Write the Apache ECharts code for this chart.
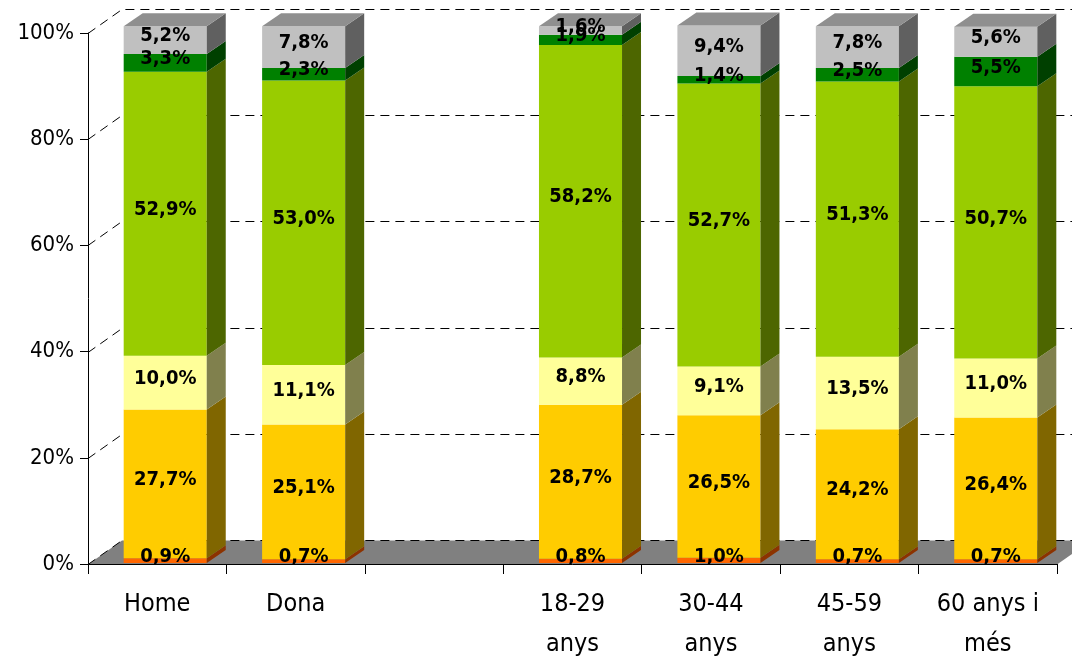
<!DOCTYPE html>
<html>
<head>
<meta charset="utf-8">
<script src="https://cdn.jsdelivr.net/npm/echarts@6/dist/echarts.min.js"></script>
<style>
  html, body { margin: 0; padding: 0; background: #fff; }
  #chart { width: 1072px; height: 660px; }
</style>
</head>
<body>
<div id="chart"></div>
<script>
const categories = ['Home', 'Dona', '', '18-29\nanys', '30-44\nanys', '45-59\nanys', '60 anys i\nmés'];
const valuesOrange = [0.9, 0.7, null, 0.8, 1.0, 0.7, 0.7];
const valuesGold = [27.7, 25.1, null, 28.7, 26.5, 24.2, 26.4];
const valuesPaleYellow = [10.0, 11.1, null, 8.8, 9.1, 13.5, 11.0];
const valuesGreen = [52.9, 53.0, null, 58.2, 52.7, 51.3, 50.7];
const valuesDarkGreen = [3.3, 2.3, null, 1.9, 1.4, 2.5, 5.5];
const valuesGray = [5.2, 7.8, null, 1.6, 9.4, 7.8, 5.6];
const yTicks = [0, 20, 40, 60, 80, 100];

// bottom to top
const stack = [
  { values: valuesOrange, front: '#FF6600', side: '#8C3300' },
  { values: valuesGold, front: '#FFCC00', side: '#806600' },
  { values: valuesPaleYellow, front: '#FFFF99', side: '#80804D' },
  { values: valuesGreen, front: '#99CC00', side: '#4D6600' },
  { values: valuesDarkGreen, front: '#008000', side: '#004000' },
  { values: valuesGray, front: '#C0C0C0', side: '#606060' }
];

const FONT = '"DejaVu Sans Condensed", "DejaVu Sans", sans-serif';
const DX = 34, DY = 24;            // depth of the chart box
const BOX = 8, BOY = 1;            // bar front face offset
const BDX = 19, BDY = 13;          // bar depth
const STRETCH = 1.011;             // bars sit a bit nearer than the front plane

function segments(k) {
  const out = [];
  categories.forEach((c, i) => {
    const v = stack[k].values[i];
    if (v == null) return;
    let base = 0;
    for (let j = 0; j < k; j++) base += stack[j].values[i];
    out.push([i, base, base + v, v]);
  });
  return out;
}

function fmt(v) {
  return v.toFixed(1).replace('.', ',') + '%';
}

// front-face point of a bar for category i at value v
function barPoint(api, i, v) {
  const z = api.coord([i, 0]);
  const p = api.coord([i, v]);
  return [p[0] + BOX, z[1] + (p[1] - z[1]) * STRETCH - BOY];
}

function renderBar(k) {
  return function (params, api) {
    const i = api.value(0);
    const lo = barPoint(api, i, api.value(1));
    const hi = barPoint(api, i, api.value(2));
    const w = api.size([1, 0])[0] * 0.6;
    const x0 = lo[0] - w / 2, x1 = x0 + w;
    const yb = lo[1], yt = hi[1];
    const s = stack[k];
    const children = [
      { type: 'rect', shape: { x: x0, y: yt, width: w, height: yb - yt }, style: { fill: s.front } },
      { type: 'polygon', shape: { points: [[x1, yb], [x1, yt], [x1 + BDX, yt - BDY], [x1 + BDX, yb - BDY]] }, style: { fill: s.side } }
    ];
    if (k === stack.length - 1) {
      children.push({ type: 'polygon', shape: { points: [[x0, yt], [x1, yt], [x1 + BDX, yt - BDY], [x0 + BDX, yt - BDY]] }, style: { fill: '#8F8F8F' } });
    }
    return { type: 'group', children: children };
  };
}

function renderFrame(params, api) {
  const cs = params.coordSys;
  const y = Math.round(api.coord([0, api.value(0)])[1]) + 0.5;
  const xl = cs.x, xr = cs.x + cs.width;
  const children = [];
  if (api.value(0) === 0) {
    children.push({ type: 'polygon', shape: { points: [[xl, y], [xr, y], [xr + DX, y - DY], [xl + DX, y - DY]] }, style: { fill: '#808080' } });
  }
  children.push({
    type: 'polyline',
    shape: { points: [[xl, y], [xl + DX, y - DY], [xr + DX, y - DY]] },
    style: { fill: null, stroke: '#000', lineWidth: 1, lineDash: [9, 6] }
  });
  return { type: 'group', children: children };
}

let labelData = [];
stack.forEach((s, k) => {
  segments(k).forEach(d => labelData.push([d[0], (d[1] + d[2]) / 2, d[3]]));
});

function renderLabel(params, api) {
  const p = barPoint(api, api.value(0), api.value(1));
  return {
    type: 'text',
    x: p[0],
    y: p[1] - 4,
    style: {
      text: fmt(api.value(2)),
      fill: '#000',
      font: 'bold 20px ' + FONT,
      align: 'center',
      verticalAlign: 'middle'
    }
  };
}

const series = [{
  type: 'custom',
  name: 'frame',
  z: 1,
  clip: false,
  silent: true,
  data: yTicks.map(v => [v]),
  encode: { y: 0 },
  renderItem: renderFrame
}];

stack.forEach((s, k) => {
  series.push({
    type: 'custom',
    z: 2,
    clip: false,
    data: segments(k),
    encode: { x: 0, y: 2 },
    renderItem: renderBar(k)
  });
});

series.push({
  type: 'custom',
  name: 'labels',
  z: 5,
  clip: false,
  data: labelData,
  encode: { x: 0, y: 1 },
  renderItem: renderLabel
});

const chart = echarts.init(document.getElementById('chart'));
chart.setOption({
  animation: false,
  backgroundColor: '#fff',
  grid: { left: 88, right: 15, top: 33, bottom: 96, outerBoundsMode: 'none' },
  xAxis: {
    type: 'category',
    data: categories,
    z: 10,
    axisLine: { lineStyle: { color: '#000', width: 1 } },
    axisTick: { show: true, length: 10, lineStyle: { color: '#000' } },
    axisLabel: { interval: 0, color: '#000', fontFamily: FONT, fontSize: 25, lineHeight: 40, margin: 20 },
    splitLine: { show: false }
  },
  yAxis: {
    type: 'value',
    min: 0,
    max: 100,
    interval: 20,
    z: 10,
    axisLine: { show: true, lineStyle: { color: '#000', width: 1 } },
    axisTick: { show: true, length: 8, lineStyle: { color: '#000' } },
    axisLabel: { color: '#000', fontFamily: FONT, fontSize: 22, margin: 14, formatter: '{value}%' },
    splitLine: { show: false }
  },
  series: series
});
</script>
</body>
</html>
